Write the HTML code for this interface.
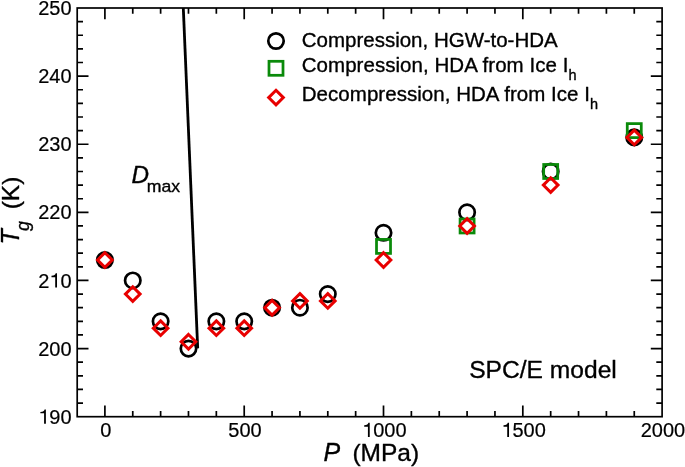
<!DOCTYPE html><html><head><meta charset="utf-8"><style>html,body{margin:0;padding:0;background:#fff;width:685px;height:467px;overflow:hidden}svg{display:block;will-change:transform}text{font-family:"Liberation Sans",sans-serif;fill:#000;stroke:#000;stroke-width:0.35px;stroke-linejoin:round}text.tl{stroke-width:0.2px}.h{fill-opacity:0;stroke-opacity:0}</style></head><body>
<svg width="685" height="467" viewBox="0 0 685 467">
<rect width="685" height="467" fill="#fff"/>
<path d="M104.90 416.70V405.40M104.90 8.00V19.30M132.76 416.70V410.90M132.76 8.00V13.80M160.62 416.70V410.90M160.62 8.00V13.80M188.48 416.70V410.90M188.48 8.00V13.80M216.34 416.70V410.90M216.34 8.00V13.80M244.21 416.70V405.40M244.21 8.00V19.30M272.07 416.70V410.90M272.07 8.00V13.80M299.93 416.70V410.90M299.93 8.00V13.80M327.79 416.70V410.90M327.79 8.00V13.80M355.65 416.70V410.90M355.65 8.00V13.80M383.51 416.70V405.40M383.51 8.00V19.30M411.37 416.70V410.90M411.37 8.00V13.80M439.23 416.70V410.90M439.23 8.00V13.80M467.09 416.70V410.90M467.09 8.00V13.80M494.95 416.70V410.90M494.95 8.00V13.80M522.82 416.70V405.40M522.82 8.00V19.30M550.68 416.70V410.90M550.68 8.00V13.80M578.54 416.70V410.90M578.54 8.00V13.80M606.40 416.70V410.90M606.40 8.00V13.80M634.26 416.70V410.90M634.26 8.00V13.80M77.20 403.08H83.00M662.10 403.08H656.30M77.20 389.45H83.00M662.10 389.45H656.30M77.20 375.83H83.00M662.10 375.83H656.30M77.20 362.21H83.00M662.10 362.21H656.30M77.20 348.58H88.50M662.10 348.58H650.80M77.20 334.96H83.00M662.10 334.96H656.30M77.20 321.34H83.00M662.10 321.34H656.30M77.20 307.71H83.00M662.10 307.71H656.30M77.20 294.09H83.00M662.10 294.09H656.30M77.20 280.47H88.50M662.10 280.47H650.80M77.20 266.84H83.00M662.10 266.84H656.30M77.20 253.22H83.00M662.10 253.22H656.30M77.20 239.60H83.00M662.10 239.60H656.30M77.20 225.97H83.00M662.10 225.97H656.30M77.20 212.35H88.50M662.10 212.35H650.80M77.20 198.73H83.00M662.10 198.73H656.30M77.20 185.10H83.00M662.10 185.10H656.30M77.20 171.48H83.00M662.10 171.48H656.30M77.20 157.86H83.00M662.10 157.86H656.30M77.20 144.23H88.50M662.10 144.23H650.80M77.20 130.61H83.00M662.10 130.61H656.30M77.20 116.99H83.00M662.10 116.99H656.30M77.20 103.36H83.00M662.10 103.36H656.30M77.20 89.74H83.00M662.10 89.74H656.30M77.20 76.12H88.50M662.10 76.12H650.80M77.20 62.49H83.00M662.10 62.49H656.30M77.20 48.87H83.00M662.10 48.87H656.30M77.20 35.24H83.00M662.10 35.24H656.30M77.20 21.62H83.00M662.10 21.62H656.30" stroke="#000" stroke-width="1.7" fill="none"/>
<rect x="77.2" y="8.0" width="584.90" height="408.70" stroke="#000" stroke-width="1.7" fill="none"/>
<text class="tl" transform="translate(38.23 423.80) scale(1 1.035)" font-size="20"><tspan class="h">1</tspan>90</text>
<path d="M0.383 0L0.383 -0.694L0.318 -0.694C0.300 -0.628 0.250 -0.578 0.107 -0.574L0.107 -0.504L0.293 -0.504L0.293 0Z" transform="translate(38.23 423.80) scale(20 20.700)" fill="#000"/>
<text class="tl" transform="translate(38.23 355.68) scale(1 1.035)" font-size="20">200</text>
<text class="tl" transform="translate(38.23 287.57) scale(1 1.035)" font-size="20">2<tspan class="h">1</tspan>0</text>
<path d="M0.383 0L0.383 -0.694L0.318 -0.694C0.300 -0.628 0.250 -0.578 0.107 -0.574L0.107 -0.504L0.293 -0.504L0.293 0Z" transform="translate(49.35 287.57) scale(20 20.700)" fill="#000"/>
<text class="tl" transform="translate(38.23 219.45) scale(1 1.035)" font-size="20">220</text>
<text class="tl" transform="translate(38.23 151.33) scale(1 1.035)" font-size="20">230</text>
<text class="tl" transform="translate(38.23 83.22) scale(1 1.035)" font-size="20">240</text>
<text class="tl" transform="translate(38.23 15.10) scale(1 1.035)" font-size="20">250</text>
<text class="tl" transform="translate(100.14 437.10) scale(1 1.035)" font-size="20">0</text>
<text class="tl" transform="translate(228.32 437.10) scale(1 1.035)" font-size="20">500</text>
<text class="tl" transform="translate(362.06 437.10) scale(1 1.035)" font-size="20"><tspan class="h">1</tspan>000</text>
<path d="M0.383 0L0.383 -0.694L0.318 -0.694C0.300 -0.628 0.250 -0.578 0.107 -0.574L0.107 -0.504L0.293 -0.504L0.293 0Z" transform="translate(362.06 437.10) scale(20 20.700)" fill="#000"/>
<text class="tl" transform="translate(501.37 437.10) scale(1 1.035)" font-size="20"><tspan class="h">1</tspan>500</text>
<path d="M0.383 0L0.383 -0.694L0.318 -0.694C0.300 -0.628 0.250 -0.578 0.107 -0.574L0.107 -0.504L0.293 -0.504L0.293 0Z" transform="translate(501.37 437.10) scale(20 20.700)" fill="#000"/>
<text class="tl" transform="translate(640.67 437.10) scale(1 1.035)" font-size="20">2000</text>
<path d="M183.3 8 L197.7 348.4" stroke="#000" stroke-width="2.8" fill="none"/>
<circle cx="104.90" cy="260.03" r="7.7" stroke="#000" stroke-width="2.7" fill="none"/>
<circle cx="132.76" cy="280.47" r="7.7" stroke="#000" stroke-width="2.7" fill="none"/>
<circle cx="160.62" cy="321.34" r="7.7" stroke="#000" stroke-width="2.7" fill="none"/>
<circle cx="188.48" cy="348.58" r="7.7" stroke="#000" stroke-width="2.7" fill="none"/>
<circle cx="216.34" cy="321.34" r="7.7" stroke="#000" stroke-width="2.7" fill="none"/>
<circle cx="244.21" cy="321.34" r="7.7" stroke="#000" stroke-width="2.7" fill="none"/>
<circle cx="272.07" cy="307.71" r="7.7" stroke="#000" stroke-width="2.7" fill="none"/>
<circle cx="299.93" cy="307.71" r="7.7" stroke="#000" stroke-width="2.7" fill="none"/>
<circle cx="327.79" cy="294.09" r="7.7" stroke="#000" stroke-width="2.7" fill="none"/>
<circle cx="383.51" cy="232.78" r="7.7" stroke="#000" stroke-width="2.7" fill="none"/>
<circle cx="467.09" cy="212.35" r="7.7" stroke="#000" stroke-width="2.7" fill="none"/>
<circle cx="550.68" cy="171.48" r="7.7" stroke="#000" stroke-width="2.7" fill="none"/>
<circle cx="634.26" cy="137.42" r="7.7" stroke="#000" stroke-width="2.7" fill="none"/>
<rect x="376.51" y="239.41" width="14.0" height="14.0" stroke="#0a8a0a" stroke-width="2.75" fill="none"/>
<rect x="460.09" y="218.97" width="14.0" height="14.0" stroke="#0a8a0a" stroke-width="2.75" fill="none"/>
<rect x="543.68" y="164.48" width="14.0" height="14.0" stroke="#0a8a0a" stroke-width="2.75" fill="none"/>
<rect x="627.26" y="123.61" width="14.0" height="14.0" stroke="#0a8a0a" stroke-width="2.75" fill="none"/>
<path d="M104.90 252.70L112.23 260.03L104.90 267.36L97.57 260.03Z" stroke="#e80000" stroke-width="3.0" fill="none" stroke-miterlimit="10"/>
<path d="M132.76 286.76L140.09 294.09L132.76 301.42L125.43 294.09Z" stroke="#e80000" stroke-width="3.0" fill="none" stroke-miterlimit="10"/>
<path d="M160.62 320.82L167.95 328.15L160.62 335.48L153.29 328.15Z" stroke="#e80000" stroke-width="3.0" fill="none" stroke-miterlimit="10"/>
<path d="M188.48 334.44L195.81 341.77L188.48 349.10L181.15 341.77Z" stroke="#e80000" stroke-width="3.0" fill="none" stroke-miterlimit="10"/>
<path d="M216.34 320.82L223.67 328.15L216.34 335.48L209.01 328.15Z" stroke="#e80000" stroke-width="3.0" fill="none" stroke-miterlimit="10"/>
<path d="M244.21 320.82L251.54 328.15L244.21 335.48L236.88 328.15Z" stroke="#e80000" stroke-width="3.0" fill="none" stroke-miterlimit="10"/>
<path d="M272.07 300.38L279.40 307.71L272.07 315.04L264.74 307.71Z" stroke="#e80000" stroke-width="3.0" fill="none" stroke-miterlimit="10"/>
<path d="M299.93 293.57L307.26 300.90L299.93 308.23L292.60 300.90Z" stroke="#e80000" stroke-width="3.0" fill="none" stroke-miterlimit="10"/>
<path d="M327.79 293.57L335.12 300.90L327.79 308.23L320.46 300.90Z" stroke="#e80000" stroke-width="3.0" fill="none" stroke-miterlimit="10"/>
<path d="M383.51 252.70L390.84 260.03L383.51 267.36L376.18 260.03Z" stroke="#e80000" stroke-width="3.0" fill="none" stroke-miterlimit="10"/>
<path d="M467.09 218.64L474.42 225.97L467.09 233.30L459.76 225.97Z" stroke="#e80000" stroke-width="3.0" fill="none" stroke-miterlimit="10"/>
<path d="M550.68 177.77L558.01 185.10L550.68 192.43L543.35 185.10Z" stroke="#e80000" stroke-width="3.0" fill="none" stroke-miterlimit="10"/>
<path d="M634.26 130.09L641.59 137.42L634.26 144.75L626.93 137.42Z" stroke="#e80000" stroke-width="3.0" fill="none" stroke-miterlimit="10"/>
<circle cx="276.00" cy="41.00" r="7.7" stroke="#000" stroke-width="2.7" fill="none"/>
<rect x="269.00" y="61.30" width="14.0" height="14.0" stroke="#0a8a0a" stroke-width="2.75" fill="none"/>
<path d="M276.00 90.27L283.33 97.60L276.00 104.93L268.67 97.60Z" stroke="#e80000" stroke-width="3.0" fill="none" stroke-miterlimit="10"/>
<text x="301.76" y="46.6" font-size="20.5">Compression, HGW-to-HDA</text>
<text x="301.76" y="72.1" font-size="20.5" letter-spacing="0.045">Compression, HDA from Ice I<tspan font-size="14.5" dy="8">h</tspan></text>
<text x="301.76" y="101.4" font-size="20.5" letter-spacing="0.04">Decompression, HDA from Ice I<tspan font-size="14.5" dy="8">h</tspan></text>
<text x="131.4" y="182.9" font-size="24.3" font-style="italic">D</text>
<text transform="translate(146.8 192.4) scale(1.05 1)" font-size="16.8">max</text>
<text x="469.2" y="377.9" font-size="24.6">SPC/E model</text>
<text x="323.5" y="461.4" font-size="25" font-style="italic">P</text>
<text x="352.4" y="461" font-size="24.5">(MPa)</text>
<g transform="translate(19.0 244.6) rotate(-90)"><text x="0" y="0" font-size="25" font-style="italic">T</text><text x="13.6" y="10.0" font-size="17.8" font-style="italic">g</text><text x="35.3" y="0" font-size="24.5">(K)</text></g>
</svg></body></html>
